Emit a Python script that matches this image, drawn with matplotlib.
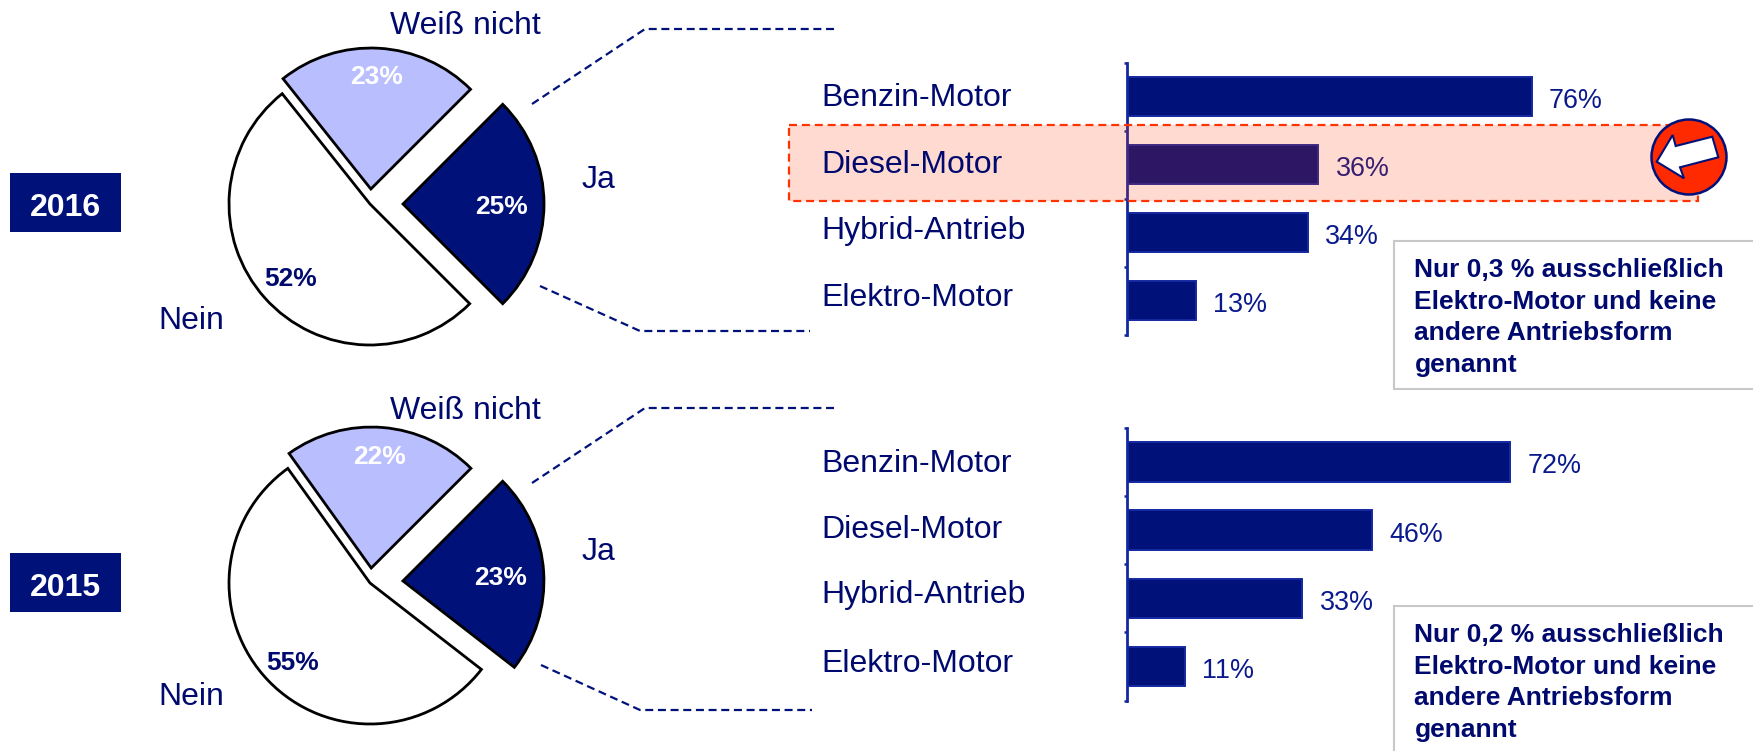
import matplotlib
matplotlib.use("Agg")
import matplotlib.pyplot as plt
from matplotlib.patches import Rectangle, Circle, Polygon

plt.rcParams['font.family'] = ['Liberation Sans', 'DejaVu Sans']

W, H = 1753, 751

NAVY = '#00127A'
TEXT = '#000A6E'
BARTXT = '#0A1A8C'
BAREDGE = '#1428A0'
LIGHT = '#B9BEFF'

# data
years = ['2016', '2015']
pie_labels = ['Ja', 'Weiß nicht', 'Nein']
pie_2016 = [25, 23.2, 51.8]
pie_2015 = [23, 22.4, 54.6]
motors = ['Benzin-Motor', 'Diesel-Motor', 'Hybrid-Antrieb', 'Elektro-Motor']
bars_2016 = [76, 36, 34, 13]
bars_2015 = [72, 46, 33, 11]
note_2016 = 'Nur 0,3 % ausschließlich\nElektro-Motor und keine\nandere Antriebsform\ngenannt'
note_2015 = 'Nur 0,2 % ausschließlich\nElektro-Motor und keine\nandere Antriebsform\ngenannt'

fig = plt.figure(figsize=(W / 100, H / 100), dpi=100, facecolor='white')


def px_axes(x0, y0, x1, y1, z):
    # rectangle given in image pixels, y downwards
    return fig.add_axes([x0 / W, 1 - y1 / H, (x1 - x0) / W, (y1 - y0) / H], zorder=z)


def draw_pie(values, cx, cy):
    r = 141
    m = 200
    ax = px_axes(cx - m, cy - m, cx + m, cy + m, 1)
    ax.pie(values, explode=[33 / r, 15 / r, 0], colors=[NAVY, LIGHT, 'white'],
           startangle=45 - values[0] * 3.6, radius=1,
           wedgeprops=dict(edgecolor='black', linewidth=2, joinstyle='miter'))
    ax.set_xlim(-m / r, m / r)
    ax.set_ylim(-m / r, m / r)
    ax.patch.set_alpha(0)


def draw_bars(values, y0, y1):
    ax = px_axes(1126.5, y0, 1126.5 + 533, y1, 2)
    ax.patch.set_alpha(0)
    ax.barh(range(4), values, height=0.58, color=NAVY, edgecolor=BAREDGE, linewidth=1.4)
    ax.set_xlim(0, 100)
    ax.set_ylim(3.5, -0.5)
    for sp in ['top', 'right', 'bottom']:
        ax.spines[sp].set_visible(False)
    ax.spines['left'].set_color(BAREDGE)
    ax.spines['left'].set_linewidth(2)
    ax.set_xticks([])
    ax.set_yticks([-0.5, 0.5, 1.5, 2.5, 3.5])
    ax.tick_params(axis='y', length=2.5, width=1.8, color=BAREDGE, labelleft=False)
    for i, v in enumerate(values):
        ax.annotate(f'{v}%', (v, i), xytext=(12.5, -8.2), textcoords='offset points',
                    va='baseline', ha='left', fontsize=19.4, color=BARTXT)


draw_pie(pie_2016, 370, 204)
draw_pie(pie_2015, 370, 583)
draw_bars(bars_2016, 62.5, 334.5)
draw_bars(bars_2015, 428, 700.5)

# pixel overlay for the annotations
ov = px_axes(0, 0, W, H, 5)
ov.set_xlim(0, W)
ov.set_ylim(H, 0)
ov.axis('off')

# year badges
for year, top, bottom, base in zip(years, [173, 553], [232, 612], [215.7, 595.5]):
    ov.add_patch(Rectangle((10, top), 111, bottom - top, facecolor=NAVY, edgecolor='none'))
    ov.text(65.5, base, year, color='white', fontsize=23, fontweight='bold',
            ha='center', va='baseline')

# pie captions
for name, x, y2016, y2015 in zip(pie_labels, [582, 390, 158], [188, 34.3, 328.7], [560, 418.7, 705]):
    for y in [y2016, y2015]:
        ov.text(x, y, name, color=TEXT, fontsize=23, ha='left', va='baseline')

# percentages in the pies
pct_x = [[502, 377, 291], [501, 380, 293]]
pct_y = [[214, 83.5, 286], [585, 464, 670]]
pct_c = ['white', 'white', TEXT]
for vals, xs, ys in zip([pie_2016, pie_2015], pct_x, pct_y):
    for v, x, y, c in zip(vals, xs, ys, pct_c):
        ov.text(x, y, f'{v:.0f}%', color=c, fontsize=19, fontweight='bold',
                ha='center', va='baseline')

# dashed connectors
dash = (0, (3.6, 2.1))
conn_2016 = [([532, 645, 834], [104, 29, 29]), ([540, 640, 810], [286, 331, 331])]
conn_2015 = [([532, 645, 834], [483, 408, 408]), ([541, 640, 812], [665, 710, 710])]
for xs, ys in conn_2016 + conn_2015:
    ov.plot(xs, ys, color=NAVY, lw=1.6, linestyle=dash)

# motor names
y_names_2016 = [106, 173, 239.5, 306]
y_names_2015 = [472.5, 538, 603.5, 671.5]
for name, y1, y2 in zip(motors, y_names_2016, y_names_2015):
    ov.text(821.5, y1, name, color=TEXT, fontsize=23, ha='left', va='baseline')
    ov.text(821.5, y2, name, color=TEXT, fontsize=23, ha='left', va='baseline')

# highlight over the diesel row
ov.add_patch(Rectangle((789, 125), 909, 76, facecolor=(1, 0.2, 0, 0.18), edgecolor='none'))
ov.add_patch(Rectangle((789, 125), 909, 76, fill=False, edgecolor='#FF3300', lw=1.6,
                       linestyle=(0, (3.6, 2.2))))
ov.add_patch(Circle((1689, 157), 37.5, facecolor='#FF2A00', edgecolor=NAVY, lw=1.8, zorder=6))
arrow = [(1656.7, 161.7), (1672.7, 135), (1675.7, 146), (1712.3, 136.7),
         (1718.3, 157.3), (1680, 167.3), (1684, 178.3)]
ov.add_patch(Polygon(arrow, closed=True, facecolor='white', edgecolor=NAVY, lw=1.5, zorder=7))

# note boxes, running off the page
for note, top, bottom in zip([note_2016, note_2015], [241, 606], [389, 760]):
    ov.add_patch(Rectangle((1394.5, top), 370, bottom - top, facecolor='white',
                           edgecolor='#C8C8C8', lw=1.5, zorder=6))
    for i, line in enumerate(note.split('\n')):
        ov.text(1414.5, top + 36 + i * 31.7, line, color=TEXT, fontsize=19, fontweight='bold',
                ha='left', va='baseline', zorder=7)

fig.savefig('out.png', dpi=100, facecolor='white')
